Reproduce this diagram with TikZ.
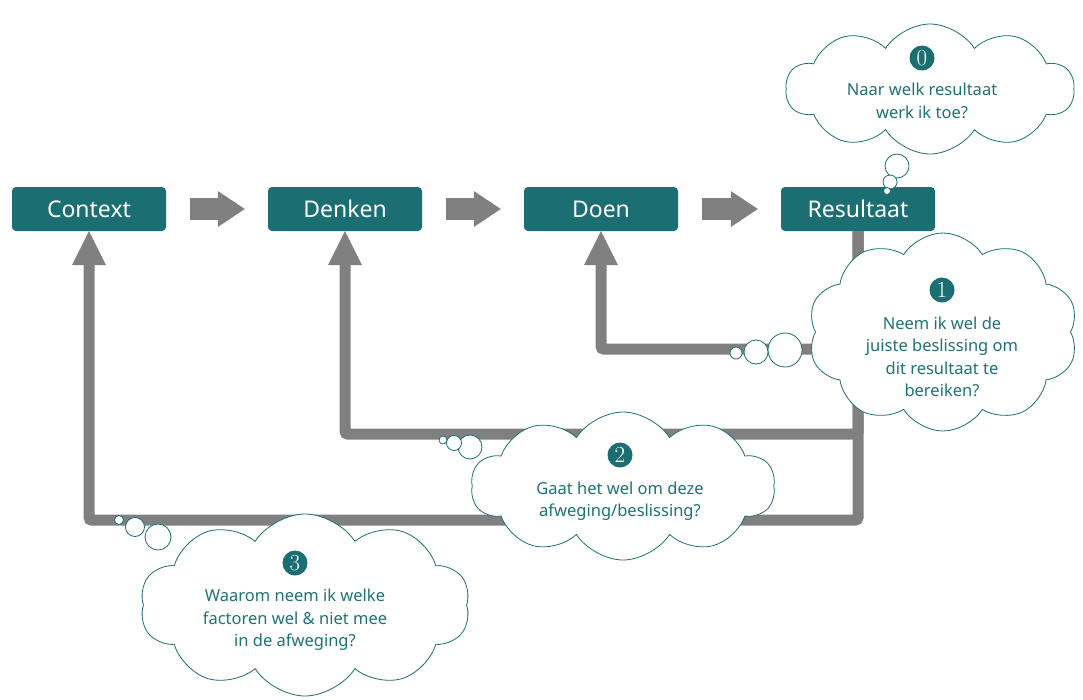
\documentclass[tikz,border=0pt]{standalone}
\usepackage{fontspec}
\setsansfont{Noto Sans}
\usetikzlibrary{arrows.meta,shapes.symbols}
\definecolor{tealA}{HTML}{1B6E72}
\definecolor{tealT}{HTML}{1F7275}
\definecolor{grayA}{HTML}{808080}
\begin{document}
\begin{tikzpicture}[x=1pt,y=-1pt,
 stage/.style={fill=tealA, rounded corners=4pt, minimum width=154pt, minimum height=44pt, text=white, font=\sffamily\fontsize{23}{26}\selectfont, inner sep=0},
 flow/.style={draw=grayA, line width=22pt, -{Triangle[width=36pt,length=27pt,line width=0pt]}, shorten <=24pt, shorten >=23pt},
 fb/.style={draw=grayA, line width=11pt, rounded corners=3pt, -{Triangle[width=34pt,length=34pt,line width=0pt]}},
 thought/.style={cloud, cloud puffs=10, cloud puff arc=115, cloud ignores aspect, draw=tealA, line width=0.8pt, fill=white, inner sep=0},
 bub/.style={circle, draw=tealA, fill=white, line width=0.8pt, inner sep=0},
 num/.style={circle, fill=tealA, text=white, minimum size=25pt, inner sep=0, font=\fontsize{23}{23}\selectfont},
 qtext/.style={text=tealT, align=center, font=\sffamily\fontsize{16.5}{22.5}\selectfont}]
\useasboundingbox (0,0) rectangle (1083,699);

% stages
\node[stage] (Context) at (89,209) {Context};
\node[stage] (Denken) at (345,209) {Denken};
\node[stage] (Doen) at (601,209) {Doen};
\node[stage] (Resultaat) at (858,209) {Resultaat};

% flow arrows
\draw[flow] (Context) -- (Denken);
\draw[flow] (Denken) -- (Doen);
\draw[flow] (Doen) -- (Resultaat);

% feedback loops
\draw[fb] (Resultaat.south) -- ++(0,289) -| (Context.south);
\draw[fb] (Resultaat.south) -- ++(0,203) -| (Denken.south);
\draw[fb] (Resultaat.south) -- ++(0,118) -| (Doen.south);

% cloud 0
\node[thought, minimum width=288pt, minimum height=130pt] (c0) at (930,89) {};
\node[bub, minimum size=24pt] (b0a) at (897,166) {};
\node[bub, minimum size=14pt] (b0b) at (890,182) {};
\node[bub, minimum size=7pt] (b0c) at (887,191) {};
\node[num] (n0) at (922,58) {0};
\node[qtext] (t0) at (922,101) {Naar welk resultaat\\werk ik toe?};

% cloud 1
\node[thought, minimum width=270pt, minimum height=198pt] (c1) at (943,332) {};
\node[bub, minimum size=34pt] (b1a) at (785,350) {};
\node[bub, minimum size=24pt] (b1b) at (756,352) {};
\node[bub, minimum size=12pt] (b1c) at (736,353) {};
\node[num] (n1) at (942,290) {1};
\node[qtext] (t1) at (942,357) {Neem ik wel de\\juiste beslissing om\\dit resultaat te\\bereiken?};

% cloud 2
\node[thought, minimum width=304pt, minimum height=148pt] (c2) at (623,486) {};
\node[bub, minimum size=24pt] (b2a) at (470,447) {};
\node[bub, minimum size=15pt] (b2b) at (454,443) {};
\node[bub, minimum size=8pt] (b2c) at (443,440) {};
\node[num] (n2) at (620,455) {2};
\node[qtext] (t2) at (620,501) {Gaat het wel om deze\\afweging/beslissing?};

% cloud 3
\node[thought, minimum width=330pt, minimum height=182pt] (c3) at (305,605) {};
\node[bub, minimum size=26pt] (b3a) at (158,537) {};
\node[bub, minimum size=19pt] (b3b) at (135,527) {};
\node[bub, minimum size=9pt] (b3c) at (119,520) {};
\node[num] (n3) at (295,563) {3};
\node[qtext] (t3) at (295,620) {Waarom neem ik welke\\factoren wel \& niet mee\\in de afweging?};
\end{tikzpicture}
\end{document}
